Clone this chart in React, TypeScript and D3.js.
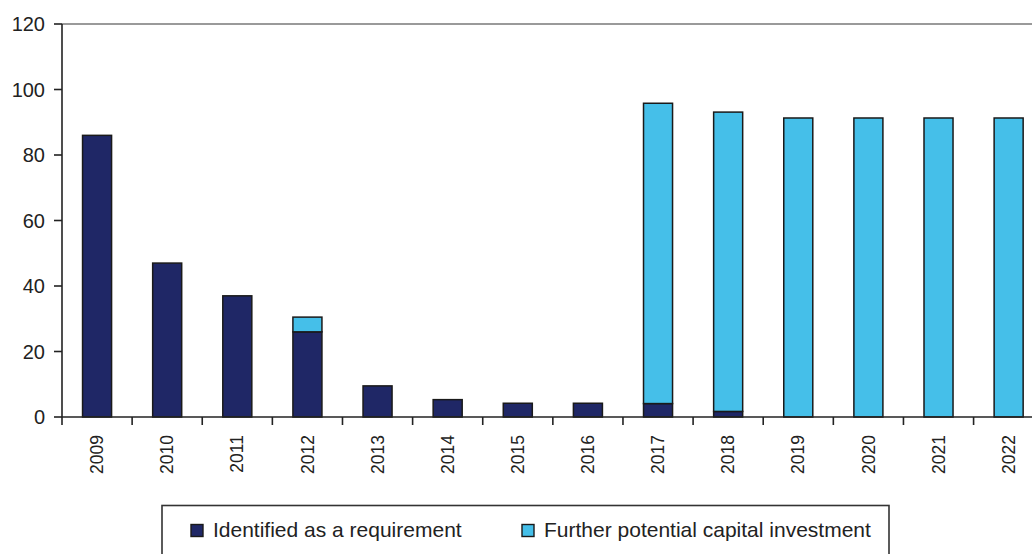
import React from "react";
import * as d3 from "d3";

// Chart data
const years = ["2009", "2010", "2011", "2012", "2013", "2014", "2015", "2016", "2017", "2018", "2019", "2020", "2021", "2022"];
const identified = [86, 47, 37, 26, 9.5, 5.3, 4.2, 4.2, 4.1, 1.7, 0, 0, 0, 0];
const further = [0, 0, 0, 4.5, 0, 0, 0, 0, 91.7, 91.4, 91.3, 91.3, 91.3, 91.3];
const yTicks = [0, 20, 40, 60, 80, 100, 120];
const seriesNames = ["Identified as a requirement", "Further potential capital investment"];
const seriesColors = ["#1f2766", "#45bfe9"];

const W = 1032;
const H = 554;
const left = 62;
const top = 24;
const bottom = 417;
const right = 1043.7;

export default function App() {
  const x = d3.scaleBand<string>().domain(years).range([left, right]).paddingInner(0.586).paddingOuter(0.293);
  const y = d3.scaleLinear().domain([0, 120]).range([bottom, top]);
  const step = x.step();

  const rows = years.map((yr, i) => ({ year: yr, identified: identified[i], further: further[i] }));
  const stacked = d3.stack<any>().keys(["identified", "further"])(rows);

  const boundaries = d3.range(0, years.length + 1).map((k) => left + k * step);

  return (
    <svg width={W} height={H} style={{ position: "absolute", left: 0, top: 0, fontFamily: "'Liberation Sans', Arial, sans-serif" }}>
      <rect x={0} y={0} width={W} height={H} fill="#fff" />
      {/* top frame line */}
      <line x1={left} x2={right} y1={y(120)} y2={y(120)} stroke="#9a9a9a" strokeWidth={2} />

      {/* bars */}
      {stacked.map((layer, si) =>
        layer.map((d, i) => {
          const h = y(d[0]) - y(d[1]);
          if (h <= 0.01) return null;
          return (
            <rect
              key={`${si}-${i}`}
              x={x(years[i])}
              y={y(d[1])}
              width={x.bandwidth()}
              height={h}
              fill={seriesColors[si]}
              stroke="#1a1a1a"
              strokeWidth={1.5}
            />
          );
        })
      )}

      {/* y axis */}
      <line x1={left} x2={left} y1={y(120)} y2={y(0)} stroke="#222" strokeWidth={1.6} />
      {yTicks.map((t) => (
        <g key={t}>
          <line x1={left - 8} x2={left} y1={y(t)} y2={y(t)} stroke="#222" strokeWidth={1.6} />
          <text x={45} y={y(t)} dy="0.35em" textAnchor="end" fontSize={20} fill="#222">
            {t}
          </text>
        </g>
      ))}

      {/* x axis */}
      <line x1={left} x2={right} y1={y(0)} y2={y(0)} stroke="#222" strokeWidth={1.6} />
      {boundaries.map((bx, k) => (
        <line key={k} x1={bx} x2={bx} y1={y(0)} y2={y(0) + 8} stroke="#222" strokeWidth={1.6} />
      ))}
      {years.map((yr) => {
        const cx = (x(yr) as number) + x.bandwidth() / 2;
        return (
          <text
            key={yr}
            transform={`translate(${cx},435) rotate(-90)`}
            dy="0.35em"
            textAnchor="end"
            fontSize={17.5}
            fill="#222"
            style={{ fontFamily: "'Liberation Sans Narrow', 'Arial Narrow', 'Liberation Sans', sans-serif", fontStretch: "condensed" }}
          >
            {yr}
          </text>
        );
      })}

      {/* legend */}
      <rect x={162} y={505.5} width={727} height={70} fill="#fff" stroke="#333" strokeWidth={1.6} />
      <rect x={191} y={524.5} width={12} height={12} fill={seriesColors[0]} stroke="#1a1a1a" strokeWidth={1.4} />
      <text x={213} y={537} fontSize={21} fill="#222">
        {seriesNames[0]}
      </text>
      <rect x={522} y={524.5} width={12} height={12} fill={seriesColors[1]} stroke="#1a1a1a" strokeWidth={1.4} />
      <text x={544} y={537} fontSize={21} fill="#222">
        {seriesNames[1]}
      </text>
    </svg>
  );
}
